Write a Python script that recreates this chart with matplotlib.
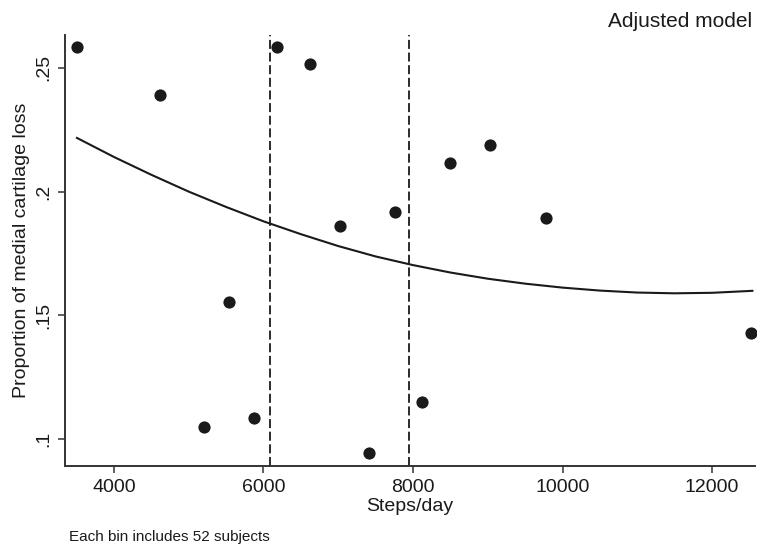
import numpy as np
from matplotlib import pyplot as plt
from matplotlib.ticker import FuncFormatter

# binned observations (15 bins, 52 subjects each)
steps = [3505, 4615, 5204, 5538, 5873, 6181, 6622, 7023, 7411, 7759, 8120, 8495, 9030, 9779, 12522]
prop_loss = [0.2585, 0.2391, 0.1049, 0.1554, 0.1085, 0.2585, 0.2516, 0.1861, 0.0944, 0.1918,
             0.1150, 0.2116, 0.2189, 0.1894, 0.1429]

# fitted curve
fit_steps = [3505, 4000, 4500, 5000, 5500, 6000, 6500, 7000, 7500, 8000, 8500, 9000, 9500,
             10000, 10500, 11000, 11500, 12000, 12540]
fit_prop = [0.2217, 0.2140, 0.2068, 0.2000, 0.1938, 0.1880, 0.1828, 0.1780, 0.1738, 0.1703,
            0.1673, 0.1648, 0.1628, 0.1612, 0.1600, 0.1592, 0.1589, 0.1591, 0.1599]

cutoffs = [6087, 7946]

x_ticks = [4000, 6000, 8000, 10000, 12000]
y_ticks = [0.10, 0.15, 0.20, 0.25]

plt.rcParams['font.family'] = ['Liberation Sans', 'DejaVu Sans']

fig = plt.figure(figsize=(7.57, 5.46), dpi=100)
ax = fig.add_axes([65 / 757, 1 - 466 / 546, 690 / 757, (466 - 35) / 546])

ink = '#1a1a1a'
ax.plot(fit_steps, fit_prop, color=ink, lw=1.5, zorder=2)
for c in cutoffs:
    ax.axvline(c, color=ink, lw=1.3, dashes=(5, 2), zorder=1)
ax.plot(steps, prop_loss, 'o', color=ink, ms=8.8, mew=0, zorder=3, clip_on=False)

ax.set_xlim(3345, 12575)
ax.set_ylim(0.0891, 0.2633)
ax.set_xticks(x_ticks)
ax.set_yticks(y_ticks)
ax.yaxis.set_major_formatter(FuncFormatter(lambda v, p: ('%g' % v).lstrip('0')))

for s in ['top', 'right']:
    ax.spines[s].set_visible(False)
for s in ['left', 'bottom']:
    ax.spines[s].set_color('#333333')
    ax.spines[s].set_linewidth(1.4)

ax.tick_params(direction='out', length=5, width=1.1, color='#333333', labelsize=14, labelcolor=ink, pad=4)
for lab in ax.get_yticklabels():
    lab.set_rotation(90)
    lab.set_va('center')

ax.set_xlabel('Steps/day', fontsize=14, color=ink, labelpad=2)
ax.set_ylabel('Proportion of medial cartilage loss', fontsize=14, color=ink, labelpad=4)

fig.text(752 / 757, 1 - 27 / 546, 'Adjusted model', ha='right', va='baseline', fontsize=15, color=ink)
fig.text(69 / 757, 1 - 541 / 546, 'Each bin includes 52 subjects', ha='left', va='baseline',
         fontsize=11, color=ink)

fig.savefig('out.png', dpi=100)
